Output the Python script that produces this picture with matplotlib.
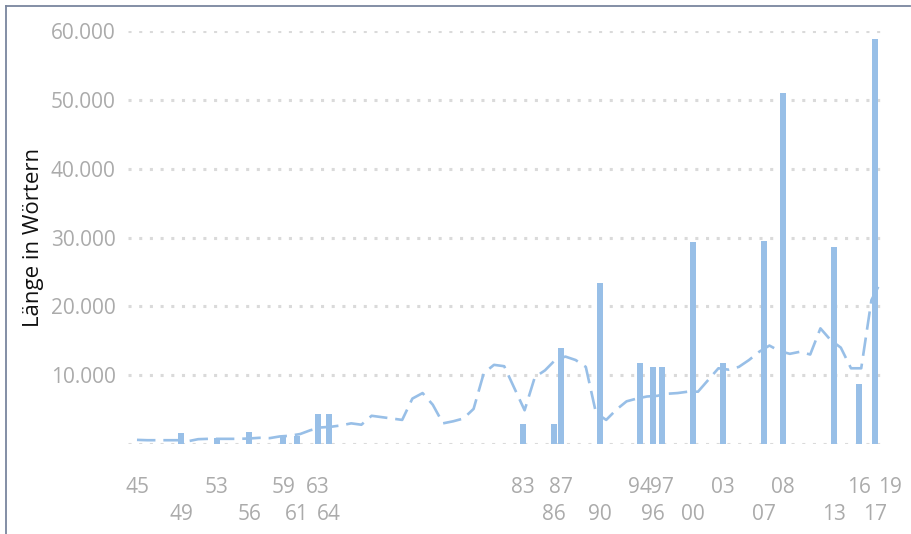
import matplotlib.pyplot as plt
from matplotlib.lines import Line2D

# Einzelne Texte: Datum (als Jahresbruchteil) und Länge in Wörtern
bar_dates = [1949.91, 1953.41, 1956.61, 1959.94, 1961.25, 1963.37, 1964.45,
             1983.44, 1986.45, 1987.17, 1990.96, 1994.91, 1996.19, 1997.07,
             2000.08, 2003.05, 2007.07, 2008.90, 2013.93, 2016.38, 2017.95]
bar_words = [1600, 800, 1800, 1200, 1200, 4300, 4300,
             2900, 2900, 14000, 23400, 11800, 11200, 11200,
             29300, 11800, 29500, 51000, 28600, 8700, 58800]

# Achsenbeschriftung: Jahr (zweistellig), Position, Zeile (0 oben, 1 unten)
tick_labels = ['45', '49', '53', '56', '59', '61', '63', '64', '83', '86', '87',
               '90', '94', '96', '97', '00', '03', '07', '08', '13', '16', '17', '19']
tick_dates = [1945.7] + bar_dates + [2019.4]
tick_rows = [0, 1, 0, 1, 0, 1, 0, 1, 0, 1, 0,
             1, 0, 1, 0, 1, 0, 1, 0, 1, 0, 1, 0]

# gleitender Trend, ein Wert pro Jahr 1945-2018
trend_years = list(range(1945, 2019))
trend_words = [600, 550, 550, 550, 550, 400, 700, 750, 750, 750,
               750, 800, 900, 850, 1100, 1200, 1450, 2000, 2400, 2500,
               2700, 3000, 2800, 4100, 3900, 3700, 3500, 6600, 7400, 5700,
               3000, 3300, 3700, 5100, 10300, 11500, 11300, 8100, 4900, 9700,
               10700, 12200, 12700, 12200, 11200, 4500, 3500, 5000, 6200, 6600,
               6900, 7000, 7300, 7400, 7600, 7600, 9300, 11000, 10800, 11200,
               12200, 13400, 14300, 13500, 13100, 13400, 13000, 16800, 15100, 14000,
               11000, 11000, 20900, 23800]

y_ticks = [10000, 20000, 30000, 40000, 50000, 60000]
y_labels = ['10.000', '20.000', '30.000', '40.000', '50.000', '60.000']

blue = '#98bfe7'
grey = '#ababab'

plt.rcParams['font.family'] = ['Open Sans', 'DejaVu Sans']

fig = plt.figure(figsize=(9.11, 5.34), dpi=100)
ax = fig.add_axes([128 / 911, 1 - 444 / 534, 767.9 / 911, 413 / 534])

x_left, x_grid_end = 1944.72, 2018.83
ax.set_xlim(x_left, 2020.0)
ax.set_ylim(0, 60000)

# gepunktete Gitterlinien
for y in [0] + y_ticks:
    ax.hlines(y, x_left, x_grid_end, color='#dadada', lw=2.2,
              linestyles=(0, (1, 2.5)), zorder=0)

ax.bar(bar_dates, bar_words, width=0.6, color=blue, zorder=2, clip_on=False)
line, = ax.plot([y + 0.6 for y in trend_years], trend_words, color=blue,
                lw=1.9, zorder=3, clip_on=False)
line.set_dashes((7, 3))

# zweizeilige x-Beschriftung
top = [i for i, r in enumerate(tick_rows) if r == 0]
bottom = [i for i, r in enumerate(tick_rows) if r == 1]
ax.set_xticks([tick_dates[i] for i in top], [tick_labels[i] for i in top])
ax.set_xticks([tick_dates[i] for i in bottom], [tick_labels[i] for i in bottom], minor=True)
ax.tick_params(axis='x', which='major', length=0, pad=24, labelsize=15, labelcolor=grey)
ax.tick_params(axis='x', which='minor', length=0, pad=43, labelsize=15, labelcolor=grey)

ax.set_yticks(y_ticks, y_labels)
ax.tick_params(axis='y', length=0, pad=9, labelsize=15, labelcolor=grey)
ax.set_ylabel('Länge in Wörtern', fontsize=16, color='#111111', labelpad=5)

for s in ax.spines.values():
    s.set_visible(False)

# Rahmen links und oben
fig.add_artist(Line2D([6 / 911, 6 / 911], [0, 1 - 6 / 534], transform=fig.transFigure,
                      color='#7a869e', lw=1.3))
fig.add_artist(Line2D([6 / 911, 910 / 911], [1 - 6 / 534, 1 - 6 / 534],
                      transform=fig.transFigure, color='#7a869e', lw=1.3))

fig.savefig('out.png', dpi=100)
